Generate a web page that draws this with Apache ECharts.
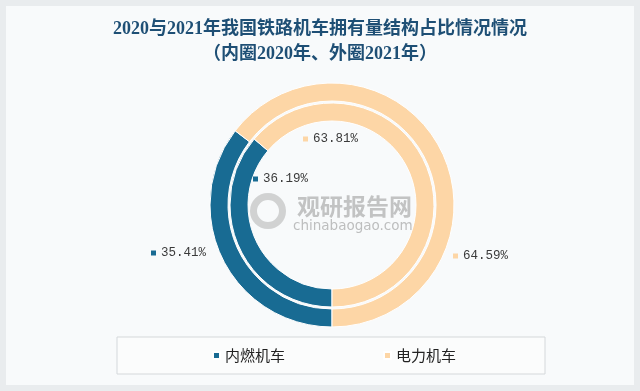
<!DOCTYPE html>
<html>
<head>
<meta charset="utf-8">
<script src="https://cdn.jsdelivr.net/npm/echarts@6/dist/echarts.min.js"></script>
<style>
html,body{margin:0;padding:0;background:#e9ecee;}
#main{width:640px;height:391px;}
</style>
</head>
<body>
<div id="main"></div>
<script>
var categories = ['内燃机车', '电力机车'];
var values2020 = [36.19, 63.81];   // inner ring
var values2021 = [35.41, 64.59];   // outer ring
var colors = ['#186b93', '#fdd6a6'];
var titleLines = ['2020与2021年我国铁路机车拥有量结构占比情况情况', '（内圈2020年、外圈2021年）'];

var center = [332, 205];

// label anchor positions (layout only)
var innerLabelPos = [[253, 179], [303, 139]];
var outerLabelPos = [[151, 253], [453, 256]];

function makeData(vals) {
  return categories.map(function (c, i) {
    return { name: c, value: vals[i], itemStyle: { color: colors[i] } };
  });
}

var labelCommon = {
  show: true,
  position: 'outside',
  fontFamily: "'Liberation Mono', monospace",
  fontSize: 12.5,
  color: '#3a3a3a',
  formatter: function (p) { return '{m' + p.dataIndex + '|}{t|' + p.value.toFixed(2) + '%}'; },
  rich: {
    m0: { width: 5, height: 5, backgroundColor: colors[0] },
    m1: { width: 5, height: 5, backgroundColor: colors[1] },
    t: { fontFamily: "'Liberation Mono', monospace", fontSize: 12.5, color: '#3a3a3a', padding: [0, 0, 0, 5] }
  }
};

var chart = echarts.init(document.getElementById('main'), null, { renderer: 'canvas' });
chart.setOption({
  backgroundColor: '#e9ecee',
  animation: false,
  graphic: [
    { type: 'rect', z: -10, shape: { x: 6, y: 6, width: 628, height: 379 }, style: { fill: '#f8fafb' } },
    { type: 'ring', z: 10, shape: { cx: 268, cy: 211, r: 18, r0: 11 }, style: { fill: 'rgba(150,150,150,0.4)' } },
    { type: 'text', z: 10, style: { x: 297, y: 206, text: '观研报告网', font: "bold 23px 'Noto Sans CJK SC'", fill: 'rgba(140,140,140,0.5)', verticalAlign: 'middle' } },
    { type: 'text', z: 10, style: { x: 293, y: 226, text: 'chinabaogao.com', font: "13.5px 'DejaVu Sans'", fill: 'rgba(140,140,140,0.55)', verticalAlign: 'middle' } }
  ],
  title: {
    text: titleLines.join('\n'),
    left: 'center',
    top: 12,
    textStyle: {
      fontFamily: "'Liberation Serif', 'Noto Sans CJK SC'",
      fontSize: 18,
      fontWeight: 'bold',
      color: '#1e4f75',
      lineHeight: 25
    }
  },
  legend: {
    data: categories,
    bottom: 17,
    left: 117,
    padding: [11, 89, 11, 95],
    itemGap: 98,
    itemWidth: 7,
    itemHeight: 7,
    icon: 'rect',
    borderColor: '#d4d8db',
    borderWidth: 1,
    backgroundColor: '#fbfcfc',
    textStyle: { fontFamily: "'Noto Sans CJK SC'", fontSize: 15, color: '#222' }
  },
  series: [
    {
      name: '2020',
      type: 'pie',
      center: center,
      radius: [84, 102],
      startAngle: 270,
      clockwise: true,
      itemStyle: { borderColor: '#ffffff', borderWidth: 1 },
      label: labelCommon,
      labelLine: { show: false },
      labelLayout: function (p) {
        var pos = innerLabelPos[p.dataIndex];
        return { x: pos[0], y: pos[1], align: 'left', verticalAlign: 'middle' };
      },
      emphasis: { disabled: true },
      data: makeData(values2020)
    },
    {
      name: '2021',
      type: 'pie',
      center: center,
      radius: [104, 122],
      startAngle: 270,
      clockwise: true,
      itemStyle: { borderColor: '#ffffff', borderWidth: 1 },
      label: labelCommon,
      labelLine: { show: false },
      labelLayout: function (p) {
        var pos = outerLabelPos[p.dataIndex];
        return { x: pos[0], y: pos[1], align: 'left', verticalAlign: 'middle' };
      },
      emphasis: { disabled: true },
      data: makeData(values2021)
    }
  ]
});
</script>
</body>
</html>
